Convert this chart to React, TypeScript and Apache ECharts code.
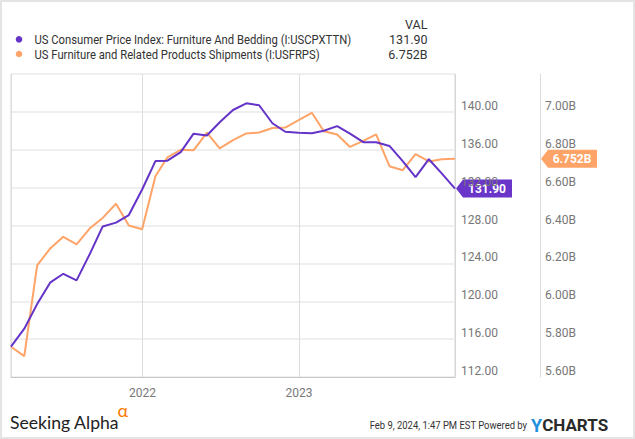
import React, { useEffect, useRef } from 'react';
import * as echarts from 'echarts';

const dates = [
  '2021-02-28', '2021-03-31', '2021-04-30', '2021-05-31', '2021-06-30', '2021-07-31',
  '2021-08-31', '2021-09-30', '2021-10-31', '2021-11-30', '2021-12-31',
  '2022-01-31', '2022-02-28', '2022-03-31', '2022-04-30', '2022-05-31', '2022-06-30',
  '2022-07-31', '2022-08-31', '2022-09-30', '2022-10-31', '2022-11-30', '2022-12-31',
  '2023-01-31', '2023-02-28', '2023-03-31', '2023-04-30', '2023-05-31', '2023-06-30',
  '2023-07-31', '2023-08-31', '2023-09-30', '2023-10-31', '2023-11-30', '2023-12-31',
];

const cpiValues = [
  115.2, 117.1, 119.7, 122.0, 122.9, 122.2, 125.0, 127.9, 128.3, 129.1, 131.8,
  134.8, 134.85, 135.75, 137.7, 137.5, 138.9, 140.2, 140.9, 140.7, 138.8, 137.9, 137.8,
  137.75, 138.0, 138.5, 137.7, 136.8, 136.8, 136.4, 134.8, 133.1, 135.0, 133.5, 131.9,
];

const shipmentValues = [
  5.76, 5.71, 6.19, 6.28, 6.34, 6.30, 6.385, 6.44, 6.515, 6.40, 6.38,
  6.66, 6.76, 6.80, 6.797, 6.89, 6.807, 6.851, 6.886, 6.891, 6.915, 6.917, 6.956,
  6.995, 6.898, 6.881, 6.815, 6.847, 6.881, 6.713, 6.692, 6.777, 6.738, 6.750, 6.752,
];

const cpiName = 'US Consumer Price Index: Furniture And Bedding (I:USCPXTTN)';
const shipName = 'US Furniture and Related Products Shipments (I:USFRPS)';
const cpiLast = '131.90';
const shipLast = '6.752B';

const PURPLE = '#6433C8';
const ORANGE = '#FFA468';
const FONT = 'Roboto, "Noto Sans", sans-serif';

export default function App() {
  const ref = useRef<HTMLDivElement>(null);
  useEffect(() => {
    if (!ref.current) return;
    const chart = echarts.init(ref.current, null, { renderer: 'svg' });

    const legendRow = (id: string, y: number, color: string, name: string, val: string) => ([
      { type: 'circle', id: id + 'dot', shape: { cx: 19, cy: y, r: 3.3 }, style: { fill: color } },
      { type: 'text', id: id + 'name', x: 34.5, y: y + 0.5, scaleX: 0.94, style: { text: name, align: 'left', verticalAlign: 'middle', fontSize: 12, fontFamily: FONT, fill: '#333' } },
      { type: 'text', id: id + 'val', x: 427.5, y: y + 0.5, style: { text: val, align: 'right', verticalAlign: 'middle', fontSize: 12.5, fontFamily: FONT, fill: '#333' } },
    ]);

    const baseGraphic: any[] = [
      { type: 'rect', id: 'frame', shape: { x: 0, y: 0, width: 635, height: 439 }, style: { fill: 'none', stroke: '#e4e4e4', lineWidth: 4 }, silent: true },
      { type: 'text', id: 'valh', x: 427.5, y: 24.5, style: { text: 'VAL', align: 'right', verticalAlign: 'middle', fontSize: 12.5, fontFamily: FONT, fill: '#333' } },
      ...legendRow('l1', 39.3, PURPLE, cpiName, cpiLast),
      ...legendRow('l2', 54, ORANGE, shipName, shipLast),
      { type: 'text', id: 'sa', x: 10, y: 422, style: { text: 'Seeking Alpha', align: 'left', verticalAlign: 'middle', fontSize: 17.6, fontFamily: 'Lato, "Open Sans", sans-serif', fill: '#222' } },
      { type: 'text', id: 'alpha', x: 117.5, y: 410, style: { text: 'α', align: 'left', verticalAlign: 'middle', fontSize: 18, fontFamily: 'Lato, "Open Sans", sans-serif', fill: '#FF7A00' } },
      { type: 'text', id: 'stamp', x: 527, y: 425, scaleX: 0.9, style: { text: 'Feb 9, 2024, 1:47 PM EST Powered by', align: 'right', verticalAlign: 'middle', fontSize: 10.5, fontFamily: FONT, fill: '#333' } },
      { type: 'text', id: 'ych', x: 531, y: 425, style: { text: '{y|Y}{c|CHARTS}', align: 'left', verticalAlign: 'middle', rich: { y: { fontSize: 18, fontWeight: 'bold', fontFamily: FONT, fill: '#1E90DD', color: '#1E90DD' }, c: { fontSize: 17, fontWeight: 'bold', fontFamily: FONT, fill: '#2a2a2a', color: '#2a2a2a' } } } },
    ];

    const option: any = {
      animation: false,
      backgroundColor: '#fff',
      textStyle: { fontFamily: FONT },
      grid: {
        left: 11, right: 180, top: 74, bottom: 62,
        show: true, borderColor: '#d6d6d6', borderWidth: 1,
      },
      xAxis: {
        type: 'time',
        min: dates[0],
        max: dates[dates.length - 1],
        splitNumber: 2,
        minInterval: 365 * 24 * 3600 * 1000,
        axisLine: { show: true, lineStyle: { color: '#c8c8c8', width: 1 } },
        axisTick: { show: false },
        axisLabel: {
          color: '#777', fontSize: 12, fontFamily: FONT, margin: 10,
          showMinLabel: false, showMaxLabel: false,
          formatter: (v: number) => {
            const d = new Date(v);
            return d.getMonth() === 0 && d.getDate() === 1 ? String(d.getFullYear()) : '';
          },
        },
        splitLine: { show: true, lineStyle: { color: '#dedede', width: 1 } },
      },
      yAxis: [
        {
          type: 'value', position: 'right', min: 112, max: 144, interval: 4,
          axisLine: { show: true, lineStyle: { color: '#d6d6d6' } },
          axisTick: { show: false },
          axisLabel: { color: '#777', fontSize: 12, fontFamily: FONT, margin: 6, verticalAlign: 'bottom', showMaxLabel: false, formatter: (v: number) => v.toFixed(2) },
          splitLine: { show: true, lineStyle: { color: '#efefef', width: 2 } },
        },
        {
          type: 'value', position: 'right', offset: 85, min: 5.6, max: 7.2, interval: 0.2,
          axisLine: { show: true, lineStyle: { color: '#dcdcdc' } },
          axisTick: { show: false },
          axisLabel: { color: '#777', fontSize: 12, fontFamily: FONT, margin: 5, verticalAlign: 'bottom', showMaxLabel: false, formatter: (v: number) => v.toFixed(2) + 'B' },
          splitLine: { show: false },
        },
      ],
      series: [
        {
          name: cpiName, type: 'line', yAxisIndex: 0, showSymbol: false,
          lineStyle: { color: PURPLE, width: 2 }, itemStyle: { color: PURPLE },
          data: dates.map((d, i) => [d, cpiValues[i]]), z: 3,
        },
        {
          name: shipName, type: 'line', yAxisIndex: 1, showSymbol: false,
          lineStyle: { color: ORANGE, width: 2 }, itemStyle: { color: ORANGE },
          data: dates.map((d, i) => [d, shipmentValues[i]]), z: 2,
        },
      ],
      graphic: baseGraphic,
    };
    chart.setOption(option);

    const last = dates.length - 1;
    const p1 = chart.convertToPixel({ seriesIndex: 0 }, [dates[last], cpiValues[last]]) as number[];
    const p2 = chart.convertToPixel({ seriesIndex: 1 }, [dates[last], shipmentValues[last]]) as number[];
    const tag = (id: string, tipX: number, y: number, color: string, text: string) => ({
      type: 'group', id, children: [
        { type: 'polygon', shape: { points: [[tipX, y], [tipX + 7, y - 9], [tipX + 56, y - 9], [tipX + 56, y + 9], [tipX + 7, y + 9]] }, style: { fill: color } },
        { type: 'text', x: tipX + 31, y: y + 0.5, style: { text, align: 'center', verticalAlign: 'middle', fontSize: 12, fontWeight: 'bold', fontFamily: FONT, fill: '#fff' } },
      ],
    });
    chart.setOption({
      graphic: [
        ...baseGraphic,
        tag('tag1', p1[0] + 1, p1[1], '#6A35C9', cpiLast),
        tag('tag2', p2[0] + 86, p2[1], ORANGE, shipLast),
      ],
    });

    return () => chart.dispose();
  }, []);
  return <div ref={ref} style={{ position: 'absolute', left: 0, top: 0, width: 635, height: 439 }} />;
}
